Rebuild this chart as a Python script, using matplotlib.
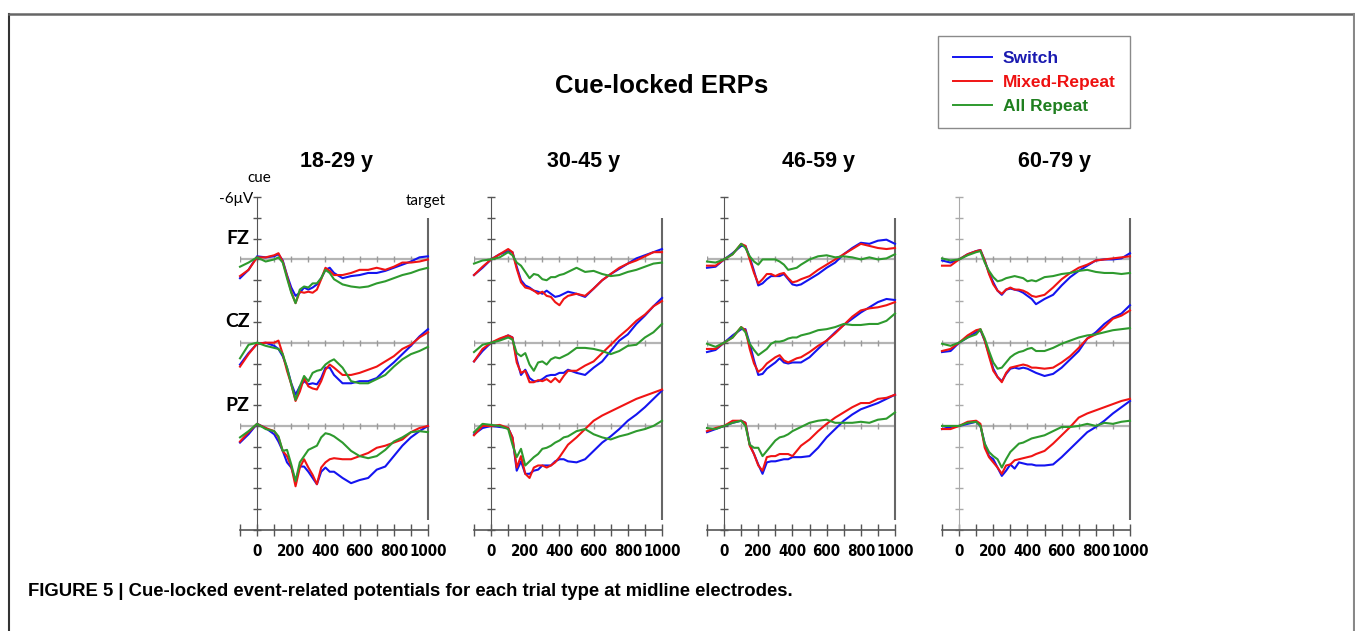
import matplotlib
matplotlib.use('Agg')
import numpy as np
import matplotlib.pyplot as plt
from matplotlib import font_manager
from matplotlib.font_manager import FontProperties
from matplotlib.lines import Line2D

plt.rcParams['font.family'] = ['Liberation Sans', 'DejaVu Sans']

installed = {f.name for f in font_manager.fontManager.ttflist}
soft = next((n for n in ['Lato', 'Open Sans'] if n in installed), 'DejaVu Sans')

# a narrow bold face for the tick numbers, if the system has one
narrow_file = None
for key in ['LiberationSansNarrow-Bold', 'DejaVuSansCondensed-Bold']:
    for f in font_manager.fontManager.ttflist:
        if key in f.fname:
            narrow_file = f.fname
            break
    if narrow_file:
        break
if narrow_file:
    tick_fp = FontProperties(fname=narrow_file, size=10.8)
else:
    tick_fp = FontProperties(family='Liberation Sans', weight='bold', size=11)

# ---- data (µV, negative plotted upwards) ----
times = [-100, -50, 0, 50, 100, 125, 150, 175, 200, 225, 250, 275, 300, 325, 350,
         375, 400, 425, 450, 500, 550, 600, 650, 700, 750, 800, 850, 900, 950, 1000]

age_groups = ['18-29 y', '30-45 y', '46-59 y', '60-79 y']
electrodes = ['FZ', 'CZ', 'PZ']
conditions = ['Switch', 'Mixed-Repeat', 'All Repeat']

# 18-29 y
y1_fz_sw = [1.8, 1.0, -0.3, -0.2, -0.3, -0.5, 0.1, 1.5, 2.7, 3.5, 3.2, 2.7, 2.9, 2.7, 2.4, 1.8, 1.0, 0.8, 1.3, 1.8, 1.6, 1.5, 1.3, 1.3, 1.1, 0.8, 0.5, 0.2, -0.2, -0.3]
y1_fz_mr = [1.6, 1.0, -0.2, -0.2, -0.4, -0.6, 0.2, 1.6, 3.1, 4.2, 3.1, 3.2, 3.1, 3.2, 2.9, 1.9, 0.8, 1.1, 1.5, 1.5, 1.3, 1.0, 1.0, 0.8, 1.0, 0.7, 0.3, 0.3, 0.2, 0.0]
y1_fz_ar = [0.7, 0.3, -0.2, 0.2, 0.0, -0.2, 0.3, 1.8, 3.2, 4.2, 2.9, 2.6, 2.7, 2.3, 2.3, 1.8, 1.0, 1.3, 1.9, 2.4, 2.6, 2.7, 2.6, 2.3, 2.1, 1.8, 1.5, 1.3, 1.0, 0.8]
y1_cz_sw = [2.1, 1.0, 0.1, 0.0, 0.3, 0.6, 1.3, 2.4, 3.9, 5.0, 4.2, 3.7, 4.0, 3.9, 4.0, 3.4, 2.4, 2.4, 3.1, 3.9, 3.9, 3.7, 3.7, 3.4, 2.6, 1.9, 1.1, 0.3, -0.6, -1.3]
y1_cz_mr = [2.3, 1.1, 0.1, 0.0, 0.0, -0.2, 1.1, 2.7, 4.0, 5.6, 4.7, 3.4, 4.2, 4.4, 4.5, 3.7, 2.6, 2.1, 2.4, 3.1, 3.1, 2.9, 2.6, 2.3, 1.8, 1.3, 0.6, 0.2, -0.5, -1.0]
y1_cz_ar = [1.5, 0.2, 0.0, 0.3, 0.5, 0.6, 1.1, 2.4, 4.0, 5.5, 4.2, 3.2, 3.7, 2.9, 2.7, 2.6, 2.1, 1.8, 1.6, 2.4, 3.7, 3.9, 3.9, 3.5, 3.1, 2.3, 1.6, 1.1, 0.8, 0.4]
y1_pz_sw = [1.6, 0.8, -0.2, 0.2, 0.8, 1.5, 2.4, 3.5, 4.0, 5.3, 3.9, 3.9, 4.4, 5.0, 5.6, 4.4, 4.0, 4.4, 4.4, 5.0, 5.5, 5.2, 5.0, 4.2, 3.9, 2.9, 1.9, 1.1, 0.5, 0.0]
y1_pz_mr = [1.5, 0.6, -0.2, 0.2, 0.5, 1.1, 2.4, 2.9, 3.9, 5.8, 4.0, 3.2, 4.0, 4.7, 5.6, 4.0, 3.5, 3.2, 3.1, 3.2, 3.2, 2.9, 2.6, 2.1, 1.9, 1.6, 1.3, 0.6, 0.2, 0.0]
y1_pz_ar = [1.1, 0.5, -0.2, 0.3, 0.5, 1.0, 2.4, 2.3, 3.7, 5.3, 3.5, 2.9, 2.3, 2.1, 1.9, 1.1, 0.7, 0.8, 1.0, 1.6, 2.4, 2.9, 3.1, 2.9, 2.3, 1.5, 1.1, 0.6, 0.5, 0.6]

# 30-45 y
y2_fz_sw = [1.5, 0.8, 0.0, -0.5, -0.8, -0.7, 0.7, 2.0, 2.5, 2.7, 3.0, 3.1, 3.3, 3.0, 3.3, 3.6, 3.5, 3.3, 3.1, 3.3, 3.6, 2.8, 2.0, 1.4, 0.9, 0.4, -0.1, -0.4, -0.7, -1.0]
y2_fz_mr = [1.5, 0.7, 0.0, -0.5, -1.0, -0.7, 0.9, 2.2, 2.7, 2.8, 3.0, 3.3, 3.1, 3.5, 3.6, 4.1, 4.4, 3.8, 3.5, 3.3, 3.5, 2.8, 2.0, 1.4, 0.8, 0.4, 0.1, -0.3, -0.7, -0.7]
y2_fz_ar = [0.4, 0.1, 0.0, -0.2, -0.7, -0.4, 0.3, 0.6, 1.2, 1.8, 1.4, 1.5, 1.9, 2.0, 1.7, 1.7, 1.5, 1.4, 1.2, 0.8, 1.2, 1.1, 1.4, 1.6, 1.5, 1.2, 1.0, 0.7, 0.4, 0.3]
y2_cz_sw = [1.8, 0.8, 0.0, -0.3, -0.7, -0.5, 1.6, 3.1, 2.6, 3.4, 3.7, 3.7, 3.5, 3.2, 3.1, 3.1, 2.9, 2.9, 2.6, 2.9, 3.1, 2.4, 1.8, 0.8, -0.2, -0.8, -1.8, -2.6, -3.5, -4.3]
y2_cz_mr = [1.8, 0.6, 0.0, -0.4, -0.7, -0.5, 1.9, 2.9, 2.7, 3.8, 3.8, 3.6, 3.7, 3.5, 3.8, 3.4, 3.8, 3.2, 2.7, 2.7, 2.2, 1.8, 1.0, 0.2, -0.6, -1.3, -2.1, -2.7, -3.5, -4.0]
y2_cz_ar = [0.9, 0.2, 0.0, -0.2, -0.5, -0.3, 1.0, 1.3, 1.0, 2.1, 2.7, 1.9, 1.8, 2.1, 1.6, 1.4, 1.5, 1.3, 1.1, 0.5, 0.5, 0.6, 0.8, 1.1, 0.8, 0.3, 0.2, -0.5, -1.0, -1.8]
y2_pz_sw = [0.8, 0.2, 0.0, 0.1, 0.2, 1.1, 4.3, 3.4, 4.6, 4.6, 4.3, 4.2, 3.8, 3.8, 3.8, 3.4, 3.2, 3.2, 3.4, 3.5, 3.2, 2.4, 1.6, 1.0, 0.3, -0.5, -1.1, -1.8, -2.6, -3.4]
y2_pz_mr = [0.9, 0.0, 0.0, -0.1, 0.2, 1.1, 4.0, 2.9, 4.6, 5.0, 4.0, 3.8, 3.8, 4.0, 3.8, 3.5, 3.0, 2.4, 1.8, 1.1, 0.3, -0.5, -1.0, -1.4, -1.8, -2.2, -2.6, -2.9, -3.2, -3.5]
y2_pz_ar = [0.6, -0.2, -0.1, 0.0, 0.3, 1.8, 3.0, 2.2, 3.8, 3.4, 3.0, 2.7, 2.2, 2.1, 1.9, 1.6, 1.4, 1.1, 1.0, 0.5, 0.3, 0.8, 1.1, 1.3, 1.0, 0.8, 0.5, 0.3, 0.0, -0.5]

# 46-59 y
y3_fz_sw = [0.8, 0.7, 0.0, -0.6, -1.3, -1.3, -0.2, 1.1, 2.5, 2.3, 1.9, 1.6, 1.6, 1.6, 1.4, 1.9, 2.4, 2.5, 2.4, 1.9, 1.4, 0.8, 0.3, -0.5, -1.1, -1.6, -1.5, -1.8, -1.9, -1.5]
y3_fz_mr = [0.6, 0.6, 0.0, -0.5, -1.5, -1.3, 0.0, 1.3, 2.3, 1.9, 1.4, 1.4, 1.6, 1.4, 1.3, 1.8, 2.2, 2.1, 1.9, 1.6, 1.0, 0.5, 0.0, -0.5, -1.0, -1.5, -1.3, -1.1, -1.0, -1.1]
y3_fz_ar = [0.2, 0.3, 0.0, -0.5, -1.5, -1.1, -0.3, 0.2, 0.5, 0.0, 0.0, 0.0, 0.0, 0.2, 0.5, 1.0, 0.9, 0.8, 0.5, 0.0, -0.3, -0.4, -0.2, -0.3, -0.2, 0.0, -0.2, 0.0, -0.1, -0.5]
y3_cz_sw = [0.9, 0.7, 0.0, -0.7, -1.3, -1.3, 0.1, 1.7, 3.1, 3.0, 2.5, 2.2, 1.9, 1.5, 1.9, 2.0, 1.9, 1.9, 1.9, 1.4, 0.6, -0.2, -1.0, -1.7, -2.3, -2.9, -3.4, -3.9, -4.2, -4.1]
y3_cz_mr = [0.6, 0.6, 0.0, -0.5, -1.5, -1.2, 0.6, 2.0, 2.8, 2.5, 2.0, 1.7, 1.4, 1.2, 1.7, 1.9, 1.7, 1.5, 1.4, 0.9, 0.3, -0.2, -0.9, -1.7, -2.5, -3.1, -3.3, -3.4, -3.6, -3.9]
y3_cz_ar = [0.1, 0.4, 0.0, -0.5, -1.5, -1.0, 0.1, 0.7, 1.2, 0.9, 0.6, 0.1, -0.1, -0.1, -0.2, -0.4, -0.5, -0.5, -0.7, -0.9, -1.2, -1.3, -1.5, -1.8, -1.7, -1.7, -1.8, -1.8, -2.1, -2.8]
y3_pz_sw = [0.6, 0.3, 0.0, -0.3, -0.5, -0.3, 1.8, 2.7, 3.7, 4.6, 3.5, 3.4, 3.4, 3.3, 3.2, 3.2, 3.0, 3.0, 3.0, 2.9, 2.1, 1.1, 0.3, -0.5, -1.1, -1.6, -1.9, -2.2, -2.6, -3.0]
y3_pz_mr = [0.5, 0.2, 0.0, -0.5, -0.5, -0.3, 1.9, 2.7, 3.8, 4.3, 3.0, 2.9, 2.9, 2.7, 2.7, 2.7, 2.9, 2.4, 1.9, 1.3, 0.5, -0.2, -0.8, -1.3, -1.8, -2.2, -2.2, -2.6, -2.7, -3.0]
y3_pz_ar = [0.2, 0.3, 0.0, -0.3, -0.5, 0.0, 1.8, 2.1, 2.1, 2.9, 2.4, 1.9, 1.4, 1.1, 1.0, 0.8, 0.5, 0.3, 0.1, -0.3, -0.5, -0.6, -0.3, -0.3, -0.3, -0.4, -0.3, -0.6, -0.7, -1.3]

# 60-79 y
y4_fz_sw = [0.1, 0.3, 0.0, -0.5, -0.8, -0.9, 0.1, 1.3, 2.2, 3.0, 3.4, 2.9, 2.8, 2.9, 3.0, 3.2, 3.5, 3.8, 4.3, 3.8, 3.4, 2.5, 1.7, 1.1, 0.6, 0.1, 0.0, 0.0, -0.1, -0.6]
y4_fz_mr = [0.6, 0.6, 0.0, -0.5, -0.8, -0.9, 0.1, 1.4, 2.4, 3.0, 3.3, 2.9, 2.7, 2.9, 2.9, 3.0, 3.2, 3.5, 3.6, 3.4, 2.7, 1.9, 1.3, 0.8, 0.5, 0.1, 0.0, -0.1, -0.2, -0.3]
y4_fz_ar = [-0.1, 0.1, 0.0, -0.4, -0.7, -0.8, 0.3, 1.1, 1.7, 2.1, 2.0, 1.8, 1.7, 1.6, 1.7, 1.8, 2.1, 2.0, 2.1, 1.7, 1.6, 1.4, 1.3, 1.1, 1.0, 1.2, 1.3, 1.3, 1.4, 1.3]
y4_cz_sw = [0.9, 0.8, 0.0, -0.5, -1.0, -1.2, -0.2, 1.1, 2.5, 3.3, 3.7, 3.0, 2.5, 2.4, 2.5, 2.4, 2.5, 2.7, 2.9, 3.2, 3.0, 2.4, 1.6, 0.8, -0.4, -1.0, -1.8, -2.4, -2.8, -3.6]
y4_cz_mr = [0.8, 0.6, 0.0, -0.7, -1.2, -1.3, -0.2, 1.3, 2.7, 3.3, 3.8, 2.9, 2.4, 2.3, 2.2, 2.1, 2.2, 2.4, 2.4, 2.5, 2.4, 1.9, 1.3, 0.5, -0.4, -0.8, -1.5, -2.3, -2.6, -3.1]
y4_cz_ar = [0.1, 0.3, 0.0, -0.5, -0.8, -1.3, -0.4, 0.8, 1.9, 2.5, 2.4, 1.9, 1.4, 1.1, 0.9, 0.8, 0.6, 0.5, 0.8, 0.8, 0.5, 0.1, -0.2, -0.5, -0.7, -0.8, -1.0, -1.2, -1.3, -1.4]
y4_pz_sw = [0.3, 0.1, 0.0, -0.2, -0.4, 0.0, 1.7, 2.9, 3.2, 4.0, 4.8, 4.3, 3.7, 4.1, 3.5, 3.6, 3.7, 3.7, 3.8, 3.8, 3.7, 3.0, 2.2, 1.4, 0.6, 0.1, -0.5, -1.2, -1.8, -2.4]
y4_pz_mr = [0.3, 0.3, 0.0, -0.4, -0.5, -0.2, 2.1, 3.0, 3.5, 4.0, 4.6, 3.8, 3.7, 3.3, 3.2, 3.1, 3.0, 2.9, 2.7, 2.4, 1.7, 0.9, 0.1, -0.8, -1.2, -1.5, -1.8, -2.1, -2.4, -2.6]
y4_pz_ar = [0.0, 0.0, 0.0, -0.3, -0.4, 0.0, 1.7, 2.5, 2.9, 3.2, 4.0, 3.2, 2.5, 2.1, 1.7, 1.6, 1.4, 1.2, 1.1, 0.9, 0.5, 0.1, 0.1, 0.0, -0.2, 0.0, -0.3, -0.2, -0.4, -0.5]

panels = [
    [[y1_fz_sw, y1_fz_mr, y1_fz_ar], [y1_cz_sw, y1_cz_mr, y1_cz_ar], [y1_pz_sw, y1_pz_mr, y1_pz_ar]],
    [[y2_fz_sw, y2_fz_mr, y2_fz_ar], [y2_cz_sw, y2_cz_mr, y2_cz_ar], [y2_pz_sw, y2_pz_mr, y2_pz_ar]],
    [[y3_fz_sw, y3_fz_mr, y3_fz_ar], [y3_cz_sw, y3_cz_mr, y3_cz_ar], [y3_pz_sw, y3_pz_mr, y3_pz_ar]],
    [[y4_fz_sw, y4_fz_mr, y4_fz_ar], [y4_cz_sw, y4_cz_mr, y4_cz_ar], [y4_pz_sw, y4_pz_mr, y4_pz_ar]],
]

line_colors = ['#1414f0', '#f01414', '#2e9a2e']
text_colors = ['#1a1ab0', '#ee1111', '#1f7f1f']
offsets = [0, 8, 16]   # vertical stacking of electrodes (µV)

# ---- layout (pixels of the 1355x631 canvas) ----
W, H = 1355, 631
def fx(x):
    return x / W
def fy(y):
    return 1 - y / H

panel_left = [240, 474, 707, 942]
title_cx = [337, 584, 819, 1054]
axis_col = ['#555555', '#555555', '#555555', '#aaaaaa']

fig = plt.figure(figsize=(13.55, 6.31), dpi=100)

for i, left in enumerate(panel_left):
    ax = fig.add_axes([fx(left), fy(530), 188 / W, 333 / H])
    ax.set_xlim(-100, 1000)
    ax.set_ylim(26, -6)
    ax.patch.set_alpha(0)
    for s in ['top', 'right']:
        ax.spines[s].set_visible(False)
    ax.spines['left'].set_position(('data', 0))
    ax.spines['left'].set_color(axis_col[i])
    ax.spines['bottom'].set_color('#555555')
    ax.spines['bottom'].set_linewidth(1.2)

    xt = list(range(-100, 1001, 100))
    ax.set_xticks(xt)
    ax.set_xticklabels([str(t) if t >= 0 and t % 200 == 0 else '' for t in xt],
                       fontproperties=tick_fp)
    ax.tick_params(axis='x', direction='inout', length=8, width=1, color='#555555', pad=6)
    ax.set_yticks(range(-6, 27, 2))
    ax.set_yticklabels([])
    ax.tick_params(axis='y', direction='inout', length=6, width=1, color=axis_col[i])

    for off in offsets:
        ax.hlines(off, -100, 1000, color='#b4b4b4', lw=1.6, zorder=1)
        ax.plot(xt, [off] * len(xt), ls='none', marker='|', ms=5, mew=1,
                color='#9a9a9a', zorder=1)

    ax.vlines(1000, -4, 25, color='#666666', lw=1.5, zorder=1, clip_on=False)

    for e, off in enumerate(offsets):
        for c in range(3):
            ax.plot(times, np.array(panels[i][e][c]) + off, color=line_colors[c],
                    lw=1.5, zorder=3, clip_on=False)

    fig.text(fx(title_cx[i]), fy(162), age_groups[i], ha='center', va='center',
             fontsize=15.5, fontweight='bold')

    if i == 0:
        for e, off in enumerate(offsets):
            ax.text(-45, off - 2, electrodes[e], ha='right', va='center',
                    fontsize=14, fontweight='bold', family=soft)

# labels around the first panel
fig.text(fx(259), fy(178), 'cue', ha='center', va='center', fontsize=11, family=soft)
fig.text(fx(253), fy(199), '-6μV', ha='right', va='center', fontsize=11, family=[soft, 'DejaVu Sans'])
fig.text(fx(426), fy(201), 'target', ha='center', va='center', fontsize=11, family=soft)

fig.text(fx(662), fy(86), 'Cue-locked ERPs', ha='center', va='center',
         fontsize=18.5, fontweight='bold')

# legend
handles = [Line2D([], [], color=c, lw=1.4) for c in line_colors]
leg = fig.legend(handles, conditions, loc='upper left', bbox_to_anchor=(fx(938), fy(36)),
                 borderaxespad=0, frameon=True, fancybox=False, framealpha=1,
                 edgecolor='#8a8a8a', prop={'weight': 'bold', 'size': 12.5},
                 labelcolor=text_colors, handlelength=2.25, handletextpad=0.63,
                 labelspacing=0.5, borderpad=0.85)
leg.get_frame().set_linewidth(1.0)

# caption
fig.text(fx(28), fy(592),
         'FIGURE 5 | Cue-locked event-related potentials for each trial type at midline electrodes.',
         ha='left', va='center', fontsize=13.3, fontweight='bold')

# page frame
fig.add_artist(Line2D([fx(9), fx(9)], [fy(14), 0], color='#333333', lw=1.5))
fig.add_artist(Line2D([fx(9), fx(1354)], [fy(14), fy(14)], color='#666666', lw=1.8))
fig.add_artist(Line2D([fx(1353.5), fx(1353.5)], [fy(14), 0], color='#888888', lw=1.5))

fig.savefig('out.png', dpi=100)
